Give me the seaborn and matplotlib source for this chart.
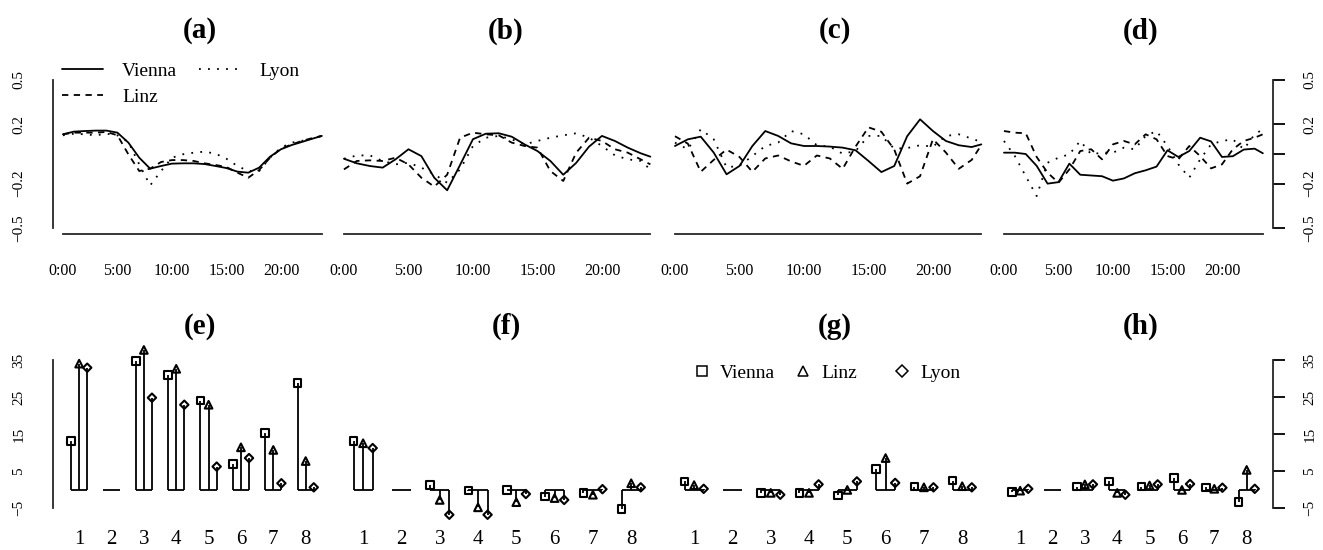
import numpy as np
import pandas as pd
import matplotlib
matplotlib.use('Agg')
import matplotlib.pyplot as plt
from matplotlib.lines import Line2D
from matplotlib.markers import MarkerStyle
from matplotlib.transforms import Affine2D
import seaborn as sns

# hourly profiles (top row)
hours = [0, 1, 2, 3, 4, 5, 6, 7, 8, 9, 10, 11, 12, 13, 14, 15, 16, 17, 18, 19, 20, 21, 22, 23, 23.75]
hour_ticks = [0, 5, 10, 15, 20, 23.75]
hour_labels = ['0:00', '5:00', '10:00', '15:00', '20:00', '']
cities = ['Vienna', 'Linz', 'Lyon']

a_vienna = [0.133, 0.151, 0.155, 0.158, 0.158, 0.144, 0.077, -0.025, -0.099, -0.081, -0.065, -0.063, -0.063,
            -0.068, -0.081, -0.095, -0.119, -0.126, -0.092, -0.018, 0.032, 0.061, 0.083, 0.106, 0.122]
a_linz = [0.133, 0.144, 0.144, 0.144, 0.149, 0.126, -0.002, -0.115, -0.099, -0.054, -0.041, -0.041, -0.047,
          -0.063, -0.074, -0.088, -0.126, -0.160, -0.108, -0.025, 0.036, 0.065, 0.090, 0.110, 0.122]
a_lyon = [0.126, 0.137, 0.133, 0.126, 0.137, 0.126, 0.081, -0.070, -0.212, -0.115, -0.025, -0.002, 0.009,
          0.016, 0.002, -0.032, -0.081, -0.115, -0.115, -0.025, 0.043, 0.077, 0.090, 0.106, 0.122]

b_vienna = [-0.032, -0.063, -0.081, -0.092, -0.036, 0.032, -0.014, -0.160, -0.245, -0.074, 0.100, 0.137, 0.140,
            0.117, 0.065, 0.020, -0.047, -0.140, -0.060, 0.050, 0.122, 0.088, 0.043, 0.005, -0.018]
b_linz = [-0.104, -0.047, -0.043, -0.047, -0.025, -0.070, -0.160, -0.220, -0.140, 0.110, 0.144, 0.133, 0.126,
          0.077, 0.054, 0.043, -0.115, -0.182, 0.009, 0.110, 0.088, 0.032, 0.009, -0.036, -0.070]
b_lyon = [-0.032, -0.010, -0.009, -0.047, -0.070, -0.059, -0.092, -0.137, -0.194, -0.104, 0.054, 0.110, 0.122,
          0.099, 0.065, 0.088, 0.110, 0.126, 0.140, 0.110, 0.054, -0.009, -0.036, -0.047, -0.104]

c_vienna = [0.054, 0.099, 0.117, 0.010, -0.137, -0.081, 0.054, 0.155, 0.122, 0.072, 0.054, 0.054, 0.050,
            0.043, 0.025, -0.047, -0.122, -0.081, 0.120, 0.234, 0.155, 0.088, 0.059, 0.047, 0.065]
c_linz = [0.12, 0.07, -0.12, -0.04, 0.03, -0.02, -0.12, -0.03, -0.01, -0.05, -0.08, -0.01, -0.03,
          -0.10, 0.05, 0.18, 0.15, 0.03, -0.20, -0.15, 0.10, 0.01, -0.10, -0.04, 0.06]
c_lyon = [0.077, 0.032, 0.167, 0.100, -0.090, -0.080, -0.014, 0.054, 0.077, 0.155, 0.133, 0.059, 0.050,
          0.002, 0.020, 0.122, 0.122, 0.036, 0.040, 0.059, 0.050, 0.122, 0.133, 0.104, 0.081]

d_vienna = [0.009, 0.009, 0.000, -0.080, -0.200, -0.190, -0.065, -0.140, -0.145, -0.150, -0.180, -0.165, -0.130,
            -0.110, -0.085, 0.025, -0.020, 0.020, 0.110, 0.085, -0.020, -0.015, 0.030, 0.036, 0.005]
d_linz = [0.155, 0.144, 0.140, -0.020, -0.126, -0.194, -0.104, 0.020, 0.032, -0.036, 0.065, 0.088, 0.065,
          0.133, 0.099, -0.014, -0.036, 0.054, -0.014, -0.097, -0.070, 0.032, 0.088, 0.110, 0.133]
d_lyon = [0.088, -0.014, -0.150, -0.284, -0.059, -0.025, -0.002, 0.088, -0.002, 0.009, 0.009, 0.043, 0.032,
          0.122, 0.155, 0.054, -0.070, -0.160, -0.036, 0.065, 0.088, 0.099, 0.032, 0.133, 0.167]

top_ticks = [-0.5, -0.2, 0, 0.2, 0.5]
top_tick_labels = ['\u22120.5', '\u22120.2', '', '0.2', '0.5']

# group effects (bottom row), group 2 is the reference
groups = [1, 2, 3, 4, 5, 6, 7, 8]
nan = np.nan
e_vienna = [13.1, nan, 34.7, 30.9, 24.0, 6.9, 15.2, 28.7]
e_linz = [34.0, nan, 37.7, 32.6, 22.9, 11.4, 10.7, 7.7]
e_lyon = [32.9, nan, 24.8, 22.9, 6.2, 8.5, 1.7, 0.6]
f_vienna = [13.1, nan, 1.3, -0.3, -0.1, -1.9, -1.0, -5.3]
f_linz = [12.5, nan, -2.8, -4.8, -3.4, -2.3, -1.4, 1.7]
f_lyon = [11.2, nan, -6.8, -6.8, -1.2, -2.8, 0.1, 0.6]
g_vienna = [2.2, nan, -0.9, -0.9, -1.6, 5.5, 0.8, 2.4]
g_linz = [1.2, nan, -0.9, -0.9, -0.1, 8.5, 0.6, 0.9]
g_lyon = [0.2, nan, -1.4, 1.4, 2.2, 1.8, 0.6, 0.6]
h_vienna = [-0.7, nan, 0.8, 2.2, 0.8, 3.1, 0.6, -3.4]
h_linz = [-0.3, nan, 1.4, -0.9, 1.1, -0.1, 0.2, 5.3]
h_lyon = [0.2, nan, 1.4, -1.4, 1.4, 1.5, 0.5, 0.2]

bottom_ticks = [-5, 5, 15, 25, 35]
bottom_tick_labels = ['\u22125', '5', '15', '25', '35']

top_series = {'a': [a_vienna, a_linz, a_lyon], 'b': [b_vienna, b_linz, b_lyon],
              'c': [c_vienna, c_linz, c_lyon], 'd': [d_vienna, d_linz, d_lyon]}
bottom_series = {'e': [e_vienna, e_linz, e_lyon], 'f': [f_vienna, f_linz, f_lyon],
                 'g': [g_vienna, g_linz, g_lyon], 'h': [h_vienna, h_linz, h_lyon]}

rows = []
for p, ser in top_series.items():
    for city, vals in zip(cities, ser):
        for hr, v in zip(hours, vals):
            rows.append((p, city, hr, v))
top_df = pd.DataFrame(rows, columns=['panel', 'city', 'hour', 'value'])

dodge = {'Vienna': -0.25, 'Linz': 0.0, 'Lyon': 0.25}
rows = []
for p, ser in bottom_series.items():
    for city, vals in zip(cities, ser):
        for g, v in zip(groups, vals):
            rows.append((p, city, g, g + dodge[city], v))
bot_df = pd.DataFrame(rows, columns=['panel', 'city', 'group', 'x', 'value'])

sns.set_theme(style='white')
plt.rcParams['font.family'] = ['Liberation Serif', 'DejaVu Serif']
plt.rcParams['axes.unicode_minus'] = False
plt.rcParams['text.color'] = 'black'

W, H = 1323, 550
fig = plt.figure(figsize=(W / 100, H / 100), dpi=100)

def px_box(x0, y0, x1, y1):
    return [x0 / W, 1 - y1 / H, (x1 - x0) / W, (y1 - y0) / H]

cols = [(52.6, 332.2), (331.7, 662.6), (662.7, 993.6), (993.6, 1273.2)]
title_x = [200, 506, 835, 1141]
dash_map = {'Vienna': '', 'Linz': (3.5, 3), 'Lyon': (1, 4)}
diamond = MarkerStyle('D', transform=Affine2D().scale(0.78))
marker_map = {'Vienna': 's', 'Linz': '^', 'Lyon': diamond}
LW = 1.3

def style_yaxis(ax, side, ticks, labels):
    for s in ['top', 'left', 'right', 'bottom']:
        ax.spines[s].set_visible(False)
    if side is None:
        ax.set_yticks([])
        return
    ax.spines[side].set_visible(True)
    ax.spines[side].set_bounds(ticks[0], ticks[-1])
    ax.spines[side].set_linewidth(LW)
    if side == 'right':
        ax.yaxis.tick_right()
    ax.set_yticks(ticks, labels)
    ax.tick_params(axis='y', direction='out', length=8.6, width=LW,
                   pad=11 if side == 'left' else 13,
                   labelsize=11, labelrotation=90, colors='black')
    for t in ax.get_yticklabels():
        t.set_va('center')

# top row: daily profiles
for i, p in enumerate(['a', 'b', 'c', 'd']):
    x0, x1 = cols[i]
    ax = fig.add_axes(px_box(x0, 74, x1, 234))
    sub = top_df[top_df.panel == p]
    sns.lineplot(data=sub, x='hour', y='value', style='city', style_order=cities,
                 dashes=dash_map, color='black', linewidth=LW, estimator=None,
                 ax=ax, legend=(p == 'a'))
    ax.set_xlim(-0.95, 24.7)
    ax.set_ylim(-0.54, 0.54)
    ax.set_xlabel('')
    ax.set_ylabel('')
    style_yaxis(ax, {'a': 'left', 'd': 'right'}.get(p), top_ticks, top_tick_labels)
    ax.spines['bottom'].set_visible(True)
    ax.spines['bottom'].set_bounds(0, 23.75)
    ax.spines['bottom'].set_linewidth(LW)
    ax.set_xticks(hour_ticks, hour_labels)
    ax.tick_params(axis='x', direction='out', length=8.6, width=LW, pad=12,
                   labelsize=11.5, colors='black')
    if p == 'a':
        handles, labels = ax.get_legend_handles_labels()
        ax.legend(handles, labels, ncol=2, loc='upper left',
                  bbox_to_anchor=(62 / W, 1 - 62 / H), bbox_transform=fig.transFigure,
                  frameon=False, fontsize=14, handlelength=2.1, handletextpad=1.0,
                  columnspacing=1.1, labelspacing=0.46, borderpad=0, borderaxespad=0)
    fig.text(title_x[i] / W, 1 - 31 / H, '(' + p + ')', ha='center', va='center',
             fontsize=21, fontweight='bold')

# bottom row: stems per group
for i, p in enumerate(['e', 'f', 'g', 'h']):
    x0, x1 = cols[i]
    ax = fig.add_axes(px_box(x0, 354, x1, 514))
    sub = bot_df[bot_df.panel == p]
    gx = np.array(groups, dtype=float)
    ax.hlines(np.zeros_like(gx), gx - 0.25, gx + 0.25, color='black', lw=LW)
    pts = sub.dropna()
    ax.vlines(pts.x, 0, pts.value, color='black', lw=LW, clip_on=False)
    sns.scatterplot(data=pts, x='x', y='value', style='city', style_order=cities,
                    markers=marker_map, color='black', facecolor='none', edgecolor='black',
                    linewidth=1.5, s=30, ax=ax, legend=False, zorder=3, clip_on=False)
    ax.set_xlim(0.18, 8.82)
    ax.set_ylim(-6.6, 36.6)
    ax.set_xlabel('')
    ax.set_ylabel('')
    style_yaxis(ax, {'e': 'left', 'h': 'right'}.get(p), bottom_ticks, bottom_tick_labels)
    ax.set_xticks(groups, [str(g) for g in groups])
    ax.tick_params(axis='x', length=0, pad=11.4, labelsize=15, colors='black')
    if p == 'g':
        # one entry per column, equal column widths
        for city, cx in zip(cities, [702, 803, 902]):
            h = Line2D([], [], ls='', marker=marker_map[city], mfc='none', mec='black',
                       ms=7.5, mew=1.1)
            leg = ax.legend([h], [city], loc='upper left',
                            bbox_to_anchor=((cx - 7.75) / W, 1 - 364 / H),
                            bbox_transform=fig.transFigure, frameon=False, fontsize=14,
                            handlelength=0.8, handletextpad=0.53, borderpad=0, borderaxespad=0)
            ax.add_artist(leg)
        ax.legend_ = None
    fig.text(title_x[i] / W, 1 - 326 / H, '(' + p + ')', ha='center', va='center',
             fontsize=21, fontweight='bold')

fig.savefig('out.png', dpi=100)
